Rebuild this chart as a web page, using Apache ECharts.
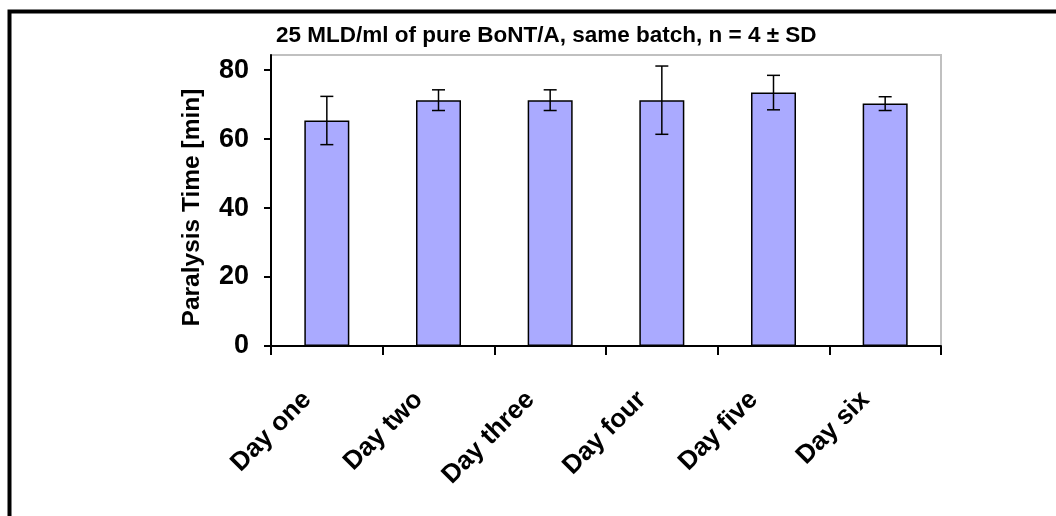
<!DOCTYPE html>
<html>
<head>
<meta charset="utf-8">
<script src="https://cdn.jsdelivr.net/npm/echarts@6/dist/echarts.min.js"></script>
<style>
  html, body { margin: 0; padding: 0; background: #fff; }
  #chart { width: 1056px; height: 516px; }
</style>
</head>
<body>
<div id="chart"></div>
<script>
var days = ['Day one', 'Day two', 'Day three', 'Day four', 'Day five', 'Day six'];
var paralysisTime = [65.4, 71.3, 71.3, 71.3, 73.5, 70.3];
var sd = [7.0, 3.0, 3.0, 9.9, 5.0, 2.0];
var yTicks = [0, 20, 40, 60, 80];

var errData = days.map(function (d, i) {
  return [i, paralysisTime[i] - sd[i], paralysisTime[i] + sd[i]];
});

var chart = echarts.init(document.getElementById('chart'));
chart.setOption({
  animation: false,
  backgroundColor: '#fff',
  textStyle: { fontFamily: 'Liberation Sans, Arial, sans-serif' },
  title: {
    text: '25 MLD/ml of pure BoNT/A, same batch, n = 4 ± SD',
    left: 271,
    top: 19,
    textStyle: { fontSize: 22.5, fontWeight: 'bold', color: '#000' }
  },
  graphic: [{
    type: 'rect',
    shape: { x: 9.5, y: 11.5, width: 1100, height: 600 },
    style: { fill: null, stroke: '#000', lineWidth: 4 },
    silent: true
  }],
  grid: {
    left: 271, right: 115, top: 55, bottom: 170,
    show: true, borderColor: '#c0c0c0', borderWidth: 2, backgroundColor: '#fff'
  },
  xAxis: {
    type: 'category',
    data: days,
    axisLine: { lineStyle: { color: '#000', width: 2 } },
    axisTick: { show: true, alignWithLabel: false, length: 9, lineStyle: { color: '#000', width: 2 } },
    axisLabel: {
      rotate: 45, margin: 30, padding: [0, 28, 0, 0],
      fontSize: 26, fontWeight: 'bold', color: '#000', interval: 0
    }
  },
  yAxis: {
    type: 'value',
    min: 0, max: 84.4,
    name: 'Paralysis Time [min]',
    nameLocation: 'middle',
    nameGap: 66,
    nameTextStyle: { fontSize: 24.5, fontWeight: 'bold', color: '#000', padding: [0, 14, 0, 0] },
    splitLine: { show: false },
    axisLine: { show: true, lineStyle: { color: '#000', width: 2 } },
    axisTick: { show: true, length: 7, customValues: yTicks, lineStyle: { color: '#000', width: 2 } },
    axisLabel: { customValues: yTicks, margin: 22, fontSize: 27, fontWeight: 'bold', color: '#000' }
  },
  series: [{
    type: 'bar',
    data: paralysisTime,
    barWidth: 45,
    itemStyle: { color: '#aaaaff', borderColor: '#000', borderWidth: 1.5 }
  }, {
    type: 'custom',
    data: errData,
    z: 10,
    renderItem: function (params, api) {
      var x = api.value(0);
      var lo = api.coord([x, api.value(1)]);
      var hi = api.coord([x, api.value(2)]);
      var w = 6.5;
      var st = { stroke: '#000', lineWidth: 1.5 };
      return {
        type: 'group',
        children: [
          { type: 'line', shape: { x1: hi[0], y1: hi[1], x2: lo[0], y2: lo[1] }, style: st },
          { type: 'line', shape: { x1: hi[0] - w, y1: hi[1], x2: hi[0] + w, y2: hi[1] }, style: st },
          { type: 'line', shape: { x1: lo[0] - w, y1: lo[1], x2: lo[0] + w, y2: lo[1] }, style: st }
        ]
      };
    }
  }]
});
</script>
</body>
</html>
